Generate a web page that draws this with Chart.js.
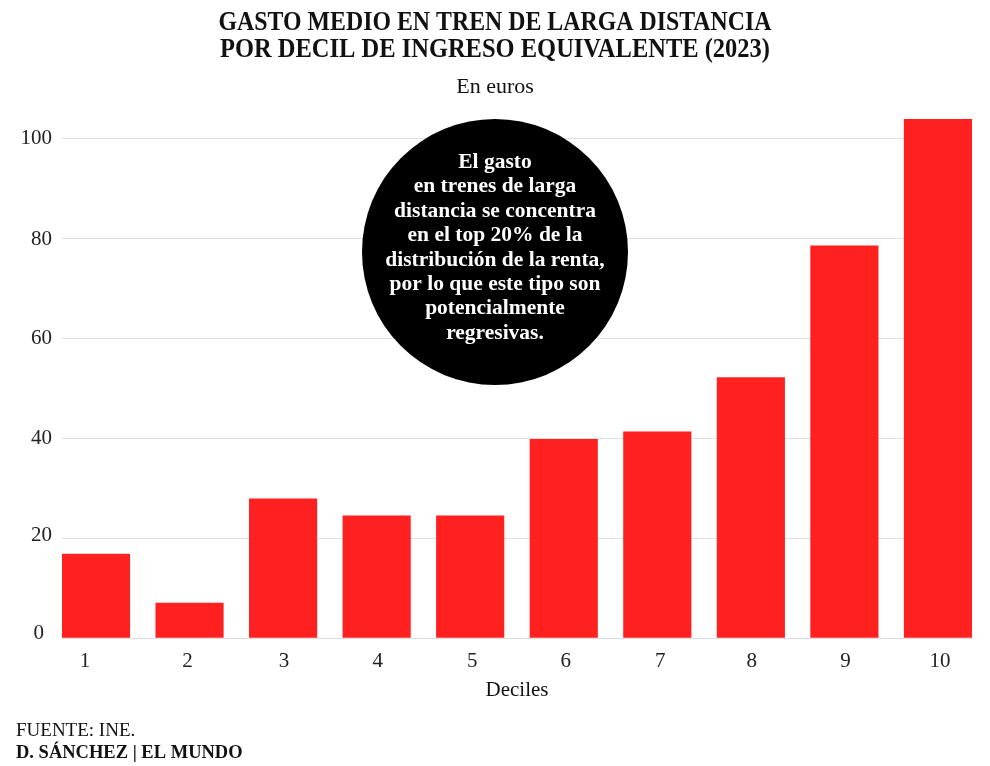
<!DOCTYPE html>
<html><head><meta charset="utf-8">
<style>
html,body{margin:0;padding:0;background:#fff;width:990px;height:766px;overflow:hidden}
#wrap{position:relative;width:990px;height:766px}
canvas{position:absolute;left:0;top:0}
</style>
<script src="https://cdn.jsdelivr.net/npm/chart.js@4"></script>
</head><body><div id="wrap"><canvas id="c" width="990" height="766"></canvas></div>
<script>
const categories=['1','2','3','4','5','6','7','8','9','10'];
const values=[16.8,7,27.9,24.5,24.5,39.8,41.3,52.2,78.6,104];
const yTicks=[0,20,40,60,80,100];
const titleLines=['GASTO MEDIO EN TREN DE LARGA DISTANCIA','POR DECIL DE INGRESO EQUIVALENTE (2023)'];
const subtitle='En euros';
const xTitle='Deciles';
const noteLines=['El gasto','en trenes de larga','distancia se concentra','en el top 20% de la','distribución de la renta,','por lo que este tipo son','potencialmente','regresivas.'];
const sourceLine='FUENTE: INE.';
const creditLine='D. SÁNCHEZ | EL MUNDO';
const serif='"Liberation Serif","DejaVu Serif",serif';
function squeezed(c,text,cx,y,w){
 const m=c.measureText(text).width;
 c.save();c.translate(cx,y);c.scale(w/m,1);c.fillText(text,0,0);c.restore();
}
const overlay={id:'overlay',
 beforeDraw(ch){
  // nudge axis labels the way the reference places them
  const xShift=[-11,-2,1,1,2,2,3,1,1,2];
  ch.scales.x.getLabelItems().forEach((it,i)=>{it.options.translation[0]+=xShift[i]||0;});
  const yShift=[-5,-3,0,0,1,0];
  ch.scales.y.getLabelItems().forEach((it,i)=>{it.options.translation[1]+=yShift[i]||0;if(i===0)it.options.translation[0]-=8;});
 },
 afterDraw(ch){
 const c=ch.ctx;c.save();
 c.textAlign='center';c.textBaseline='alphabetic';c.fillStyle='#111';
 c.font='bold 27px '+serif;
 squeezed(c,titleLines[0],495,30,553);squeezed(c,titleLines[1],495,57,550);
 c.font='22px '+serif;c.fillText(subtitle,495,93);
 c.font='21px '+serif;c.fillText(xTitle,517,696);
 c.fillStyle='#000';c.beginPath();c.arc(495,252,133,0,Math.PI*2);c.fill();
 c.fillStyle='#fff';c.font='bold 21.5px '+serif;
 noteLines.forEach((l,i)=>c.fillText(l,495,168+i*24.4));
 c.textAlign='left';c.fillStyle='#111';
 c.font='19px '+serif;c.fillText(sourceLine,16,736);
 c.font='bold 18.5px '+serif;c.fillText(creditLine,16,758);
 c.restore();
}};
new Chart(document.getElementById('c'),{
 type:'bar',
 data:{labels:categories,datasets:[{data:values,backgroundColor:'#ff2020',borderWidth:0,barThickness:67.5}]},
 options:{responsive:false,animation:false,
  layout:{padding:{left:0,right:18,top:119,bottom:0}},
  plugins:{legend:{display:false},tooltip:{enabled:false}},
  scales:{
   x:{type:'linear',min:0.6366,max:10.364,offset:false,
      afterBuildTicks(a){a.ticks=categories.map(v=>({value:+v}))},
      afterFit(a){a.height=128},
      grid:{display:false},border:{display:true,color:'#dddddd',width:1},
      ticks:{color:'#222',font:{family:serif,size:21},padding:3,maxRotation:0,autoSkip:false}},
   y:{min:0,max:104,afterBuildTicks(a){a.ticks=yTicks.map(v=>({value:v}))},
      afterFit(a){a.width=62},
      grid:{color:'#e0e0e0',lineWidth:1,drawTicks:false},border:{display:false},
      ticks:{color:'#222',font:{family:serif,size:21},padding:10}}
  }},
 plugins:[overlay]
});
</script></body></html>
